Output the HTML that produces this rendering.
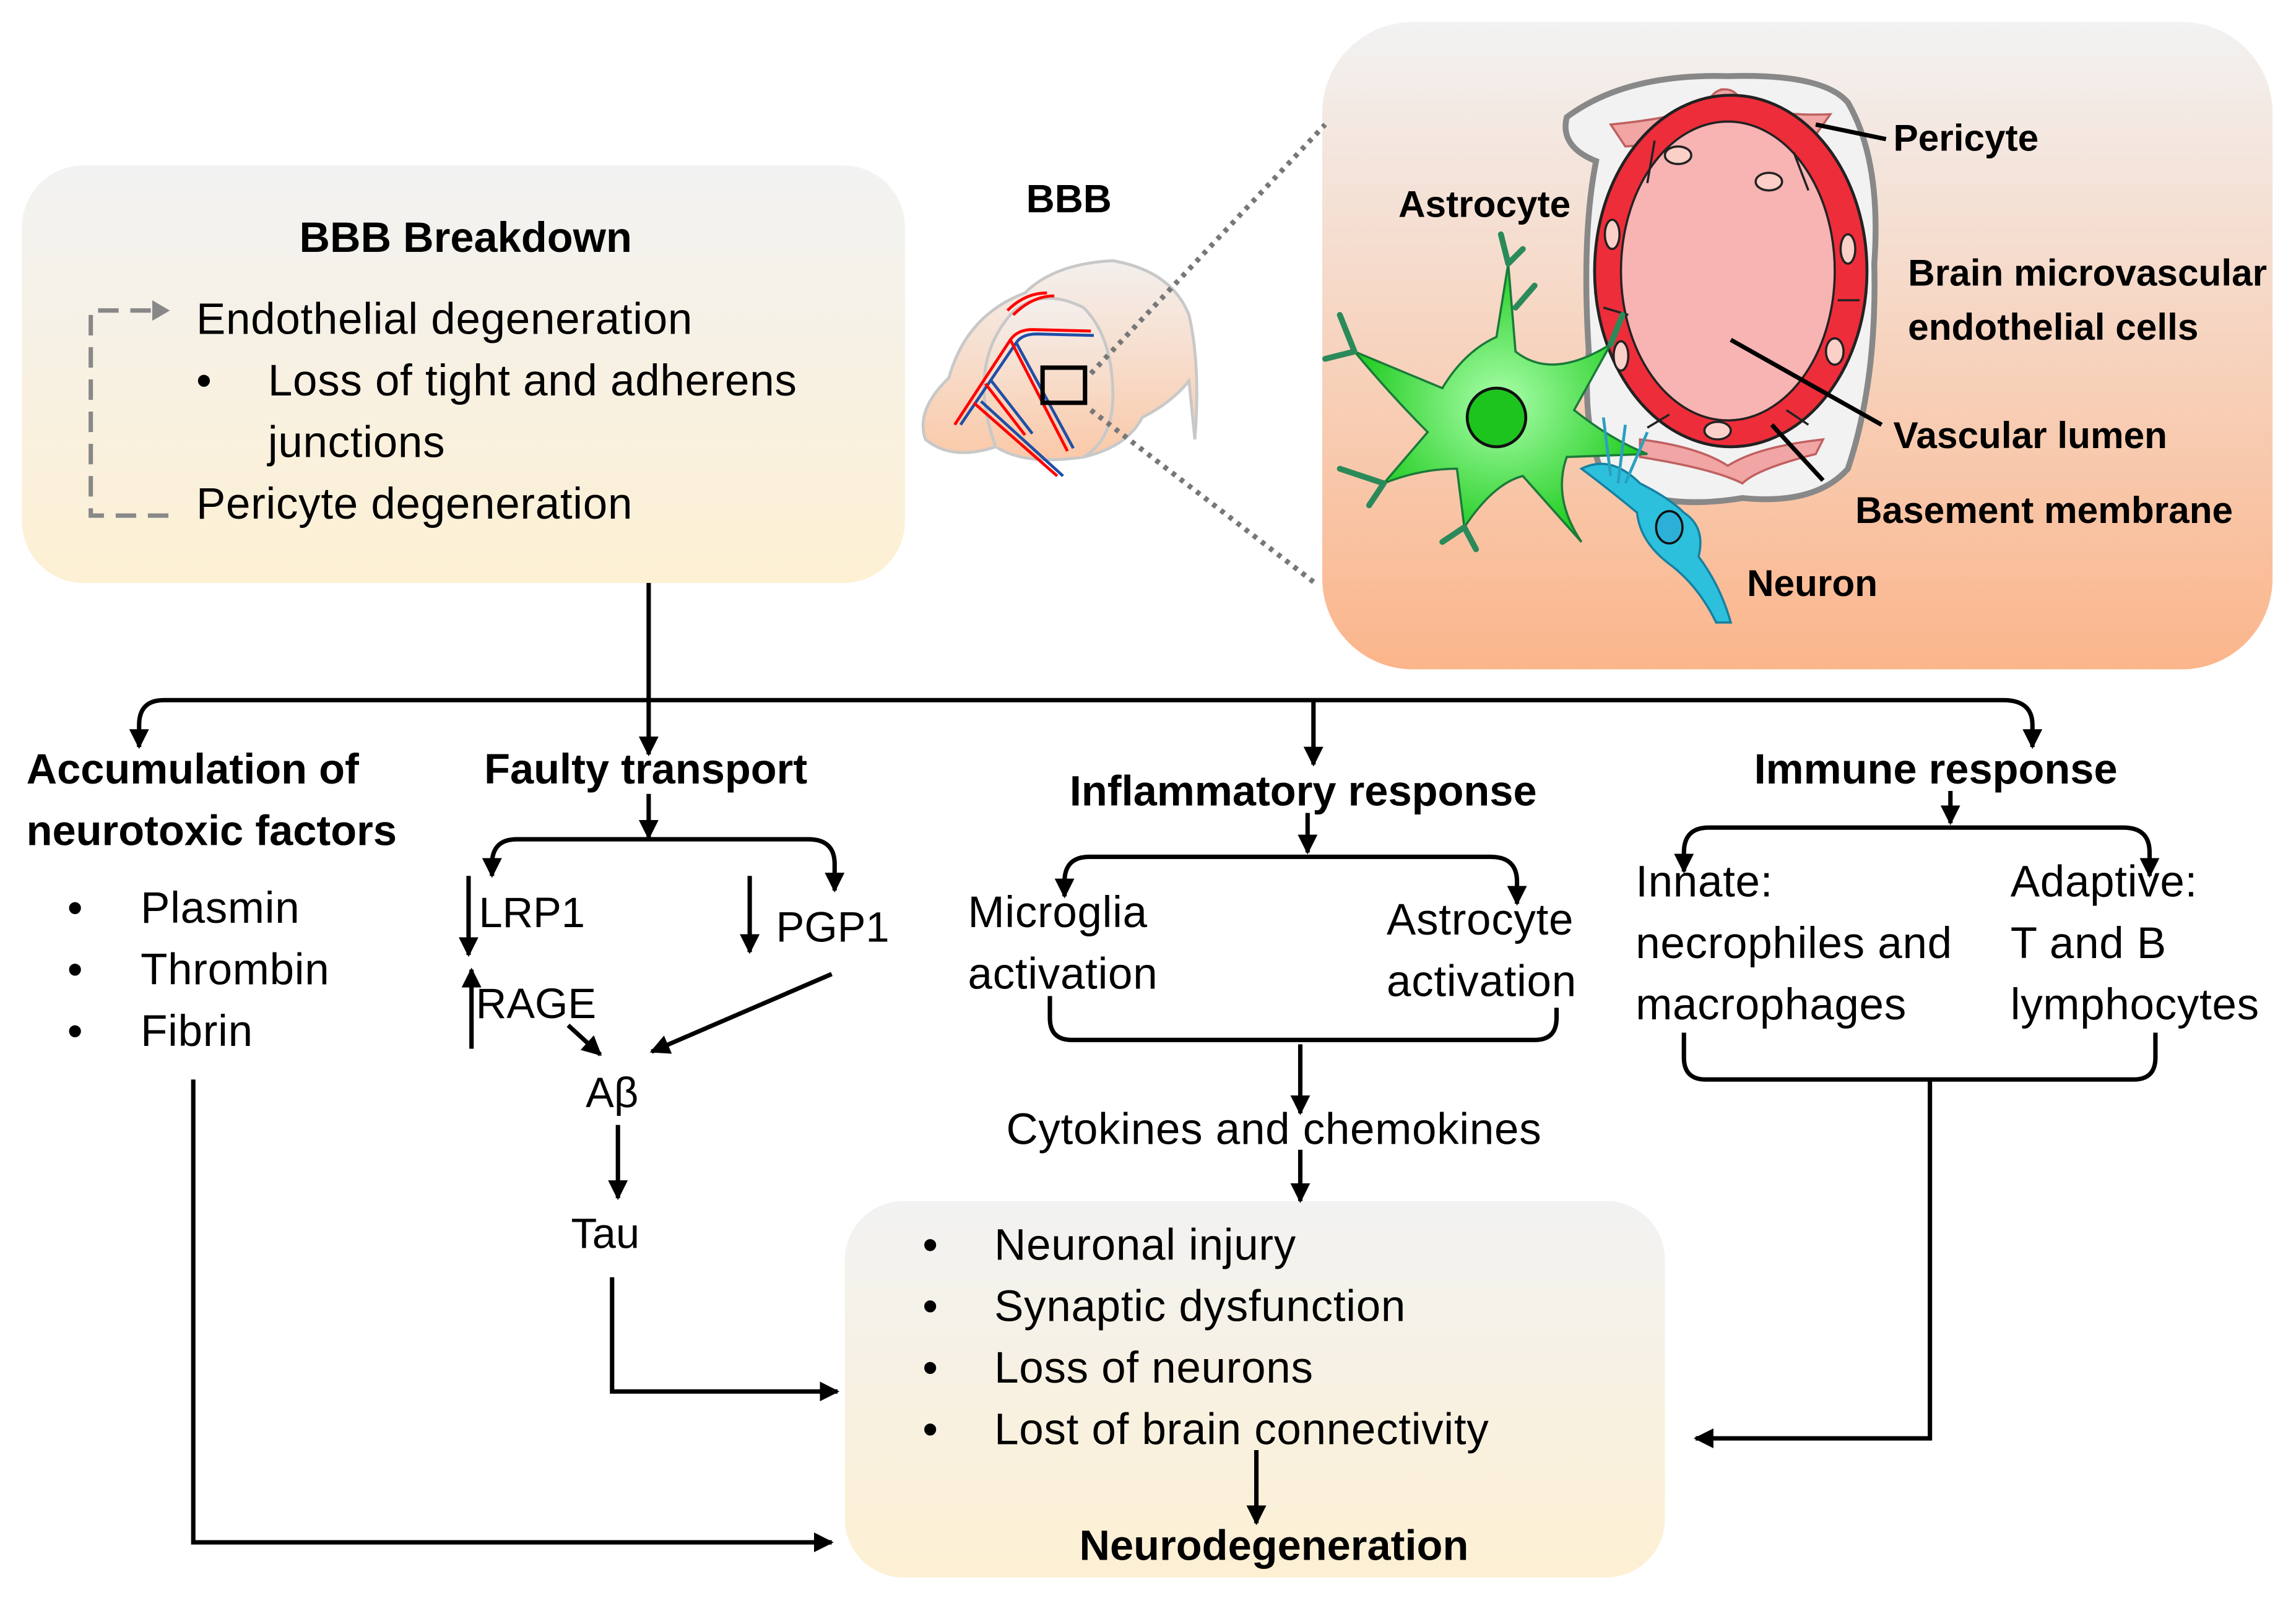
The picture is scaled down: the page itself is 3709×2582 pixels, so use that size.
<!DOCTYPE html>
<html><head><meta charset="utf-8"><style>html,body{margin:0;padding:0;background:#fff}svg{display:block}text{font-family:"Liberation Sans",Arial,sans-serif;fill:#000}</style></head>
<body>
<svg width="3709" height="2582" viewBox="0 0 1568 1091" preserveAspectRatio="none" xmlns="http://www.w3.org/2000/svg">
<defs>
<linearGradient id="g1" x1="0" y1="0" x2="0" y2="1"><stop offset="0" stop-color="#f2f2f2"/><stop offset="1" stop-color="#fdf0d3"/></linearGradient>
<linearGradient id="g2" x1="0" y1="0" x2="0" y2="1"><stop offset="0" stop-color="#f2f2f2"/><stop offset="1" stop-color="#fbb58b"/></linearGradient>
<linearGradient id="g3" x1="0" y1="0" x2="0" y2="1"><stop offset="0" stop-color="#f4f0ee"/><stop offset="1" stop-color="#fac9a8"/></linearGradient>
<radialGradient id="gg" cx="0.5" cy="0.5" r="0.5"><stop offset="0" stop-color="#aaffaa"/><stop offset="1" stop-color="#22cc22"/></radialGradient>
<marker id="ah" viewBox="0 0 10 10" refX="9" refY="5" markerWidth="4.5" markerHeight="4.5" orient="auto-start-reverse"><path d="M0,0L10,5L0,10z" fill="#000"/></marker>
</defs>

<rect x="15" y="113" width="603" height="285" rx="42" fill="url(#g1)"/>
<rect x="903" y="15" width="649" height="442" rx="62" fill="url(#g2)"/>
<rect x="577" y="820" width="560" height="257" rx="40" fill="url(#g1)"/>

<text x="318" y="172" font-size="29" font-weight="bold" text-anchor="middle">BBB Breakdown</text>
<path d="M103,212 H62 V352 H115" fill="none" stroke="#888" stroke-width="3" stroke-dasharray="14,8"/>
<path d="M104,205 L116,212 L104,219z" fill="#888"/>
<g font-size="30" letter-spacing="0.3"><text x="134" y="228">Endothelial degeneration</text><text x="134" y="270">•</text><text x="183" y="270">Loss of tight and adherens</text><text x="183" y="312">junctions</text><text x="134" y="354">Pericyte degeneration</text></g>

<text x="730" y="145" font-size="27" font-weight="bold" text-anchor="middle">BBB</text>
<g stroke="#c8c8c8" stroke-width="2" fill="url(#g3)">
<path d="M648,258 Q660,215 700,200 Q720,180 760,178 Q800,185 812,215 Q820,250 816,300 L812,260 Q800,275 780,285 Q770,305 740,312 Q700,318 680,305 Q650,315 632,300 Q625,280 648,258z"/>
<path d="M680,305 Q660,250 690,215 Q710,195 740,210 Q760,230 760,270 Q760,300 740,312"/>
</g>
<g fill="none" stroke-width="2">
<path d="M652,290 L690,232 Q695,225 705,225 L745,226" stroke="#f00"/>
<path d="M656,290 L694,234 Q698,228 708,228 L747,229" stroke="#1f4fa8"/>
<path d="M690,232 L729,308 M673,262 L700,297 M665,275 L722,325" stroke="#f00"/>
<path d="M694,234 L733,306 M677,260 L705,296 M670,274 L726,325" stroke="#1f4fa8"/>
<path d="M688,212 Q700,200 715,200 M692,215 Q705,202 720,202" stroke="#f00"/>
</g>
<rect x="712" y="251" width="29" height="24" fill="none" stroke="#000" stroke-width="3"/>
<line x1="745" y1="255" x2="905" y2="85" stroke="#777" stroke-width="3.5" stroke-dasharray="3,4"/>
<line x1="745" y1="280" x2="898" y2="398" stroke="#777" stroke-width="3.5" stroke-dasharray="3,4"/>

<path d="M1070,80 Q1110,50 1180,52 Q1245,50 1262,70 Q1285,110 1280,180 Q1282,260 1262,320 Q1240,345 1190,340 Q1130,350 1095,325 Q1080,290 1085,240 Q1080,160 1090,110 Q1065,100 1070,80z" fill="#f2f2f2" stroke="#888" stroke-width="4"/>
<g fill="#f1a5a5" stroke="#c06060" stroke-width="1.5">
<path d="M1100,85 Q1150,80 1170,70 Q1175,55 1180,65 Q1200,80 1250,78 L1240,92 Q1180,95 1110,100z"/>
<path d="M1120,300 Q1160,305 1180,318 Q1200,305 1245,300 L1240,310 Q1200,320 1190,330 Q1170,320 1120,312z"/>
<circle cx="1178" cy="72" r="11"/>
</g>
<ellipse cx="1182" cy="185" rx="93" ry="120" fill="#ee2d3a" stroke="#222" stroke-width="2"/>
<ellipse cx="1180" cy="185" rx="73" ry="102" fill="#f8b3b3" stroke="#222" stroke-width="1.5"/>
<g fill="#fbd0c8" stroke="#222" stroke-width="1.5">
<ellipse cx="1146" cy="106" rx="9" ry="6"/><ellipse cx="1208" cy="124" rx="9" ry="6"/>
<ellipse cx="1101" cy="160" rx="5" ry="10"/><ellipse cx="1262" cy="170" rx="5" ry="10"/>
<ellipse cx="1107" cy="243" rx="5" ry="10"/><ellipse cx="1253" cy="240" rx="6" ry="9"/>
<ellipse cx="1173" cy="294" rx="9" ry="6"/>
</g>
<g stroke="#222" stroke-width="1.5" fill="none">
<path d="M1130,96 L1125,125 M1225,104 L1235,130 M1095,210 L1112,215 M1270,205 L1255,205 M1140,283 L1125,292 M1220,280 L1235,290"/>
</g>
<path d="M1022,230 L1030,180 L1035,240 Q1060,260 1100,235 L1075,280 Q1100,300 1125,310 L1070,312 Q1060,340 1080,370 L1040,325 Q1020,330 1000,360 L995,320 Q970,320 945,330 L975,295 Q950,270 925,240 L985,265 Q1000,240 1022,230z" fill="url(#gg)" stroke="#1a7a3a" stroke-width="1.5"/>
<g stroke="#2b8a5a" stroke-width="4" fill="none" stroke-linecap="round">
<path d="M1030,180 L1025,160 M1030,180 L1040,170 M1035,210 L1048,195 M925,240 L915,215 M925,240 L905,245 M945,330 L915,320 M945,330 L935,345 M1000,360 L985,370 M1000,360 L1008,375 M1100,235 L1108,215"/>
</g>
<circle cx="1022" cy="285" r="20" fill="#1ec41e" stroke="#111" stroke-width="2"/>
<path d="M1080,320 Q1100,310 1120,330 Q1140,340 1150,350 Q1165,360 1160,380 Q1175,400 1182,425 L1172,425 Q1160,400 1140,385 Q1120,370 1118,350 Q1100,335 1080,320z" fill="#2cc0dc" stroke="#1880a0" stroke-width="1.5"/>
<ellipse cx="1140" cy="360" rx="9" ry="11" fill="#2cb0d8" stroke="#111" stroke-width="1.5"/>
<g stroke="#2aa0c0" stroke-width="2" fill="none"><path d="M1105,330 L1110,290 M1100,325 L1095,285 M1110,330 L1125,295"/></g>
<g stroke="#000" stroke-width="3"><line x1="1240" y1="85" x2="1288" y2="95"/><line x1="1182" y1="232" x2="1285" y2="290"/><line x1="1210" y1="290" x2="1245" y2="328"/></g>
<g font-size="25.5" font-weight="bold">
<text x="1293" y="103">Pericyte</text><text x="955" y="148">Astrocyte</text>
<text x="1303" y="195">Brain microvascular</text><text x="1303" y="232">endothelial cells</text>
<text x="1293" y="306">Vascular lumen</text><text x="1267" y="357">Basement membrane</text>
<text x="1193" y="407">Neuron</text></g>

<g fill="none" stroke="#000" stroke-width="3">
<line x1="443" y1="398" x2="443" y2="515" marker-end="url(#ah)"/>
<path d="M95,510 V495 Q95,478 112,478 H1368 Q1388,478 1388,495 V510" marker-start="url(#ah)" marker-end="url(#ah)"/>
<line x1="897" y1="478" x2="897" y2="522" marker-end="url(#ah)"/>
</g>

<g font-size="29" font-weight="bold"><text x="18" y="535">Accumulation of</text><text x="18" y="577">neurotoxic factors</text>
<text x="441" y="535" text-anchor="middle">Faulty transport</text>
<text x="890" y="550" text-anchor="middle">Inflammatory response</text>
<text x="1322" y="535" text-anchor="middle">Immune response</text>
<text x="870" y="1065" text-anchor="middle">Neurodegeneration</text></g>
<g font-size="30" letter-spacing="0.3"><text x="46" y="630">•</text><text x="96" y="630">Plasmin</text>
<text x="46" y="672">•</text><text x="96" y="672">Thrombin</text>
<text x="46" y="714">•</text><text x="96" y="714">Fibrin</text></g>

<g fill="none" stroke="#000" stroke-width="3">
<line x1="443" y1="542" x2="443" y2="572" marker-end="url(#ah)"/>
<path d="M336,598 V590 Q336,573 353,573 H552 Q570,573 570,590 V608" marker-start="url(#ah)" marker-end="url(#ah)"/>
<line x1="320" y1="598" x2="320" y2="652" marker-end="url(#ah)"/>
<line x1="512" y1="598" x2="512" y2="650" marker-end="url(#ah)"/>
<line x1="322" y1="716" x2="322" y2="662" marker-end="url(#ah)"/>
<line x1="388" y1="700" x2="410" y2="720" marker-end="url(#ah)"/>
<line x1="568" y1="665" x2="445" y2="718" marker-end="url(#ah)"/>
<line x1="422" y1="768" x2="422" y2="818" marker-end="url(#ah)"/>
<path d="M418,872 V950 H572" marker-end="url(#ah)"/>
<path d="M132,737 V1053 H568" marker-end="url(#ah)"/>
</g>
<g font-size="29"><text x="327" y="633">LRP1</text><text x="530" y="643">PGP1</text><text x="325" y="695">RAGE</text>
<text x="400" y="756">Aβ</text><text x="390" y="852">Tau</text></g>

<g fill="none" stroke="#000" stroke-width="3">
<line x1="893" y1="555" x2="893" y2="582" marker-end="url(#ah)"/>
<path d="M727,612 V602 Q727,585 744,585 H1018 Q1036,585 1036,602 V617" marker-start="url(#ah)" marker-end="url(#ah)"/>
<path d="M717,680 V695 Q717,710 732,710 H1048 Q1063,710 1063,695 V688"/>
<line x1="888" y1="713" x2="888" y2="760" marker-end="url(#ah)"/>
<line x1="888" y1="785" x2="888" y2="820" marker-end="url(#ah)"/>
</g>
<g font-size="30" letter-spacing="0.3"><text x="661" y="633">Microglia</text><text x="661" y="675">activation</text>
<text x="947" y="638">Astrocyte</text><text x="947" y="680">activation</text>
<text x="870" y="781" text-anchor="middle">Cytokines and chemokines</text></g>

<g fill="none" stroke="#000" stroke-width="3">
<line x1="1332" y1="540" x2="1332" y2="562" marker-end="url(#ah)"/>
<path d="M1150,595 V582 Q1150,565 1167,565 H1450 Q1468,565 1468,582 V598" marker-start="url(#ah)" marker-end="url(#ah)"/>
<path d="M1150,705 V722 Q1150,737 1165,737 H1457 Q1472,737 1472,722 V705"/>
<path d="M1318,737 V982 H1158" marker-end="url(#ah)"/>
</g>
<g font-size="30" letter-spacing="0.3"><text x="1117" y="612">Innate:</text><text x="1117" y="654">necrophiles and</text><text x="1117" y="696">macrophages</text>
<text x="1373" y="612">Adaptive:</text><text x="1373" y="654">T and B</text><text x="1373" y="696">lymphocytes</text></g>

<g font-size="30" letter-spacing="0.3"><text x="630" y="860">•</text><text x="679" y="860">Neuronal injury</text>
<text x="630" y="902">•</text><text x="679" y="902">Synaptic dysfunction</text>
<text x="630" y="944">•</text><text x="679" y="944">Loss of neurons</text>
<text x="630" y="986">•</text><text x="679" y="986">Lost of brain connectivity</text></g>
<line x1="858" y1="990" x2="858" y2="1040" stroke="#000" stroke-width="3" marker-end="url(#ah)"/>
</svg>
</body></html>
